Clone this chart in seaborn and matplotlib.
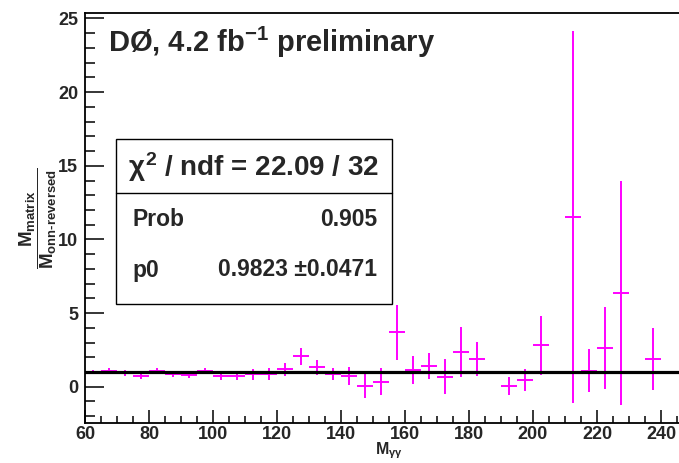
import matplotlib
matplotlib.use("Agg")
import matplotlib.pyplot as plt
from matplotlib.patches import Rectangle
from matplotlib.lines import Line2D
from matplotlib.ticker import MultipleLocator
import seaborn as sns
import pandas as pd

# Ratio of mass distributions per 5 GeV bin (empty bins omitted)
bin_centers = [62.5, 67.5, 72.5, 77.5, 82.5, 87.5, 92.5, 97.5, 102.5, 107.5,
               112.5, 117.5, 122.5, 127.5, 132.5, 137.5, 142.5, 147.5, 152.5,
               157.5, 162.5, 167.5, 172.5, 177.5, 182.5, 192.5, 197.5, 202.5,
               212.5, 217.5, 222.5, 227.5, 237.5]
ratio = [1.00, 1.09, 0.93, 0.73, 1.09, 0.88, 0.79, 1.09, 0.73, 0.73,
         0.84, 0.89, 1.18, 2.08, 1.32, 0.87, 0.73, 0.05, 0.34,
         3.69, 1.13, 1.40, 0.68, 2.36, 1.88, 0.05, 0.45, 2.81,
         11.52, 1.09, 2.63, 6.37, 1.88]
ratio_err = [0.12, 0.15, 0.20, 0.20, 0.20, 0.20, 0.20, 0.20, 0.25, 0.25,
             0.35, 0.40, 0.45, 0.57, 0.50, 0.38, 0.63, 0.80, 0.93,
             1.88, 0.94, 0.86, 1.20, 1.67, 1.14, 0.60, 0.73, 1.99,
             12.65, 1.44, 2.78, 7.60, 2.09]
bin_half_width = 2.5

# Constant fit result
fit_p0 = 0.9823
fit_p0_err = 0.0471
fit_chi2 = 22.09
fit_ndf = 32
fit_prob = 0.905
fit_range = [60, 250]

df = pd.DataFrame({"mass": bin_centers, "ratio": ratio, "err": ratio_err})
fit_df = pd.DataFrame({"mass": fit_range, "ratio": [fit_p0, fit_p0]})

sns.set_theme(style="ticks")
plt.rcParams["font.family"] = ["Liberation Sans", "DejaVu Sans"]
plt.rcParams["font.weight"] = "bold"
plt.rcParams["mathtext.fontset"] = "custom"
plt.rcParams["mathtext.rm"] = "Liberation Sans:bold"
plt.rcParams["mathtext.it"] = "Liberation Sans:bold"
plt.rcParams["mathtext.bf"] = "Liberation Sans:bold"
plt.rcParams["mathtext.sf"] = "Liberation Sans:bold"

W, H = 679, 463
fig = plt.figure(figsize=(W / 100, H / 100), dpi=100)
fig.patch.set_facecolor("white")
ax = fig.add_axes([85 / W, 1 - 423.3 / H, 1 - 85 / W, (423.3 - 12.7) / H])
ax.set_facecolor("white")

# Data points with bin-width horizontal bars
ax.errorbar(df["mass"], df["ratio"], xerr=bin_half_width, yerr=df["err"],
            fmt="none", ecolor="#ff00ff", elinewidth=1.4, capsize=0, zorder=3)

# Constant fit line
sns.lineplot(data=fit_df, x="mass", y="ratio", color="black", linewidth=2.3,
             ax=ax, zorder=4)

ax.set_xlim(60, 60 + (W - 85) / 3.2)
ax.set_ylim(-2.48, 25.39)
ax.xaxis.set_major_locator(MultipleLocator(20))
ax.xaxis.set_minor_locator(MultipleLocator(5))
ax.yaxis.set_major_locator(MultipleLocator(5))
ax.yaxis.set_minor_locator(MultipleLocator(1))
ax.tick_params(axis="x", which="major", direction="in", length=9.5, width=1.1,
               labelsize=13, pad=2, color="black")
ax.tick_params(axis="x", which="minor", direction="in", length=5, width=1.1,
               color="black")
ax.tick_params(axis="y", which="major", direction="in", length=14, width=1.1,
               labelsize=13, pad=5, color="black")
ax.tick_params(axis="y", which="minor", direction="in", length=7, width=1.1,
               color="black")
for lab in ax.get_xticklabels() + ax.get_yticklabels():
    lab.set_fontweight("bold")
for side in ["left", "bottom", "top"]:
    ax.spines[side].set_linewidth(1.3)
    ax.spines[side].set_color("black")
ax.spines["right"].set_visible(False)
ax.set_xlabel("")
ax.set_ylabel("")

# Axis titles
fig.text(375 / W, 1 - 454.5 / H, r"M$_{\gamma\gamma}$", fontsize=11.5,
         fontweight="bold", ha="left", va="baseline")
fig.text(38 / W, 1 - 218 / H,
         r"$\dfrac{M_{matrix}}{M_{onn\text{-}reversed}}$",
         fontsize=13.5, rotation=90, ha="center", va="center")

# Experiment label
fig.text(108 / W, 1 - 52 / H, r"DØ, 4.2 fb$^{-1}$ preliminary", fontsize=21,
         fontweight="bold", ha="left", va="baseline")

# Fit statistics box
bx0, bx1 = 116 / W, 392 / W
by_top, by_div, by_bot = 1 - 139 / H, 1 - 193 / H, 1 - 304 / H
fig.add_artist(Rectangle((bx0, by_bot), bx1 - bx0, by_top - by_bot,
                         transform=fig.transFigure, facecolor="white",
                         edgecolor="black", linewidth=1.0, zorder=5))
fig.add_artist(Line2D([bx0, bx1], [by_div, by_div], transform=fig.transFigure,
                      color="black", linewidth=1.0, zorder=6))
fig.text((bx0 + bx1) / 2, 1 - 167 / H,
         r"$\chi^{2}$ / ndf = %.2f / %d" % (fit_chi2, fit_ndf),
         fontsize=20, fontweight="bold", ha="center", va="center", zorder=7)
fig.text(132 / W, 1 - 220 / H, "Prob", fontsize=16.5, fontweight="bold",
         ha="left", va="center", zorder=7)
fig.text(377 / W, 1 - 220 / H, "%.3f" % fit_prob, fontsize=16.5,
         fontweight="bold", ha="right", va="center", zorder=7)
fig.text(132 / W, 1 - 270 / H, "p0", fontsize=16.5, fontweight="bold",
         ha="left", va="center", zorder=7)
fig.text(377 / W, 1 - 270 / H, "%.4f \u00b1%.4f" % (fit_p0, fit_p0_err),
         fontsize=16.5, fontweight="bold", ha="right", va="center", zorder=7)

fig.savefig("out.png", dpi=100)
